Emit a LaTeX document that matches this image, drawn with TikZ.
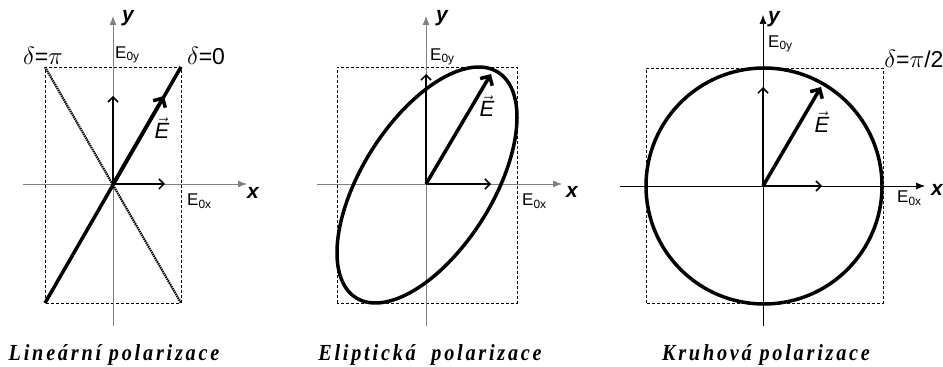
\documentclass[tikz,border=0pt]{standalone}
\usepackage{fontspec}
\setmainfont{Liberation Sans}
\newfontfamily\capfont[LetterSpace=12, FakeStretch=0.88]{Liberation Serif}
\usetikzlibrary{arrows.meta, positioning}
\newcommand{\Evec}{$\vec{\mbox{\itshape E}}$}

\begin{document}
\begin{tikzpicture}[
        x=1pt, y=1pt,
        axis/.style={-{Latex[length=9pt,width=7pt]}, line width=0.9pt, draw=gray},
        frame/.style={dash pattern=on 3pt off 2pt, line width=0.8pt},
        comp/.style={-{Straight Barb[length=5pt,width=10pt]}, line width=1.5pt},
        evec/.style={-{Straight Barb[length=7pt,width=14pt]}, line width=3.5pt},
        curve/.style={line width=3.5pt},
        lab/.style={font=\fontsize{17}{17}\selectfont, inner sep=0pt},
        evlab/.style={font=\fontsize{22}{22}\selectfont, inner sep=0pt},
        axlab/.style={font=\fontsize{21}{21}\selectfont\bfseries\itshape, inner sep=0pt},
        dlab/.style={font=\fontsize{23}{23}\selectfont, inner sep=0pt},
        captext/.style={font=\capfont\fontsize{23}{23}\selectfont\bfseries\itshape, inner sep=0pt, anchor=base}
    ]
    \useasboundingbox (0,0) rectangle (943,367);

    % Linear
    \begin{scope}[shift={(113,183)}]
        \coordinate (a-O) at (0,0);
        \coordinate (a-xl) at (-90,0);
        \coordinate (a-xr) at (134,0);
        \coordinate (a-yb) at (0,-142);
        \coordinate (a-yt) at (0,168);
        \coordinate (a-sw) at (-68,-119);
        \coordinate (a-ne) at (68,117);
        \coordinate (a-nw) at (-68,117);
        \coordinate (a-se) at (68,-119);
        \coordinate (a-E) at (51,88);
        \coordinate (a-Ex) at (52,0);
        \coordinate (a-Ey) at (0,88);

        \node[axlab] (a-y) at (15,166) {y};
        \node[axlab] (a-x) at (140,-9) {x};
        \node[lab, anchor=west] (a-E0y) at (2,129) {E\textsubscript{0y}};
        \node[lab, anchor=west] (a-E0x) at (74,-17) {E\textsubscript{0x}};
        \node[dlab] (a-pi) at (-70,128) {$\delta$=$\pi$};
        \node[dlab] (a-zero) at (93,128) {$\delta$=0};
        \node[evlab] (a-Elab) at (49,56) {\Evec};

        \draw[frame] (a-sw) rectangle (a-ne);
        \draw[axis] (a-xl) -- (a-xr);
        \draw[axis] (a-yb) -- (a-yt);
        \draw[line width=2.2pt, dash pattern=on 1.4pt off 0.8pt] (a-nw) -- (a-se);
        \draw[comp] (a-O) -- (a-Ex);
        \draw[comp] (a-O) -- (a-Ey);
        \draw[curve] (a-sw) -- (a-ne);
        \draw[evec] (a-O) -- (a-E);
    \end{scope}

    % Elliptical
    \begin{scope}[shift={(426,183)}]
        \coordinate (b-O) at (0,0);
        \coordinate (b-xl) at (-109,0);
        \coordinate (b-xr) at (136,0);
        \coordinate (b-yb) at (0,-142);
        \coordinate (b-yt) at (0,168);
        \coordinate (b-sw) at (-89,-119);
        \coordinate (b-ne) at (91,117);
        \coordinate (b-E) at (65,110);
        \coordinate (b-Ex) at (65,0);
        \coordinate (b-Ey) at (0,110);

        \node[axlab] (b-y) at (16,166) {y};
        \node[axlab] (b-x) at (146,-8) {x};
        \node[lab, anchor=west] (b-E0y) at (4,127) {E\textsubscript{0y}};
        \node[lab, anchor=west] (b-E0x) at (96,-17) {E\textsubscript{0x}};
        \node[evlab] (b-Elab) at (61,78) {\Evec};

        \draw[frame] (b-sw) rectangle (b-ne);
        \draw[axis] (b-xl) -- (b-xr);
        \draw[axis] (b-yb) -- (b-yt);
        \draw[curve] plot[domain=0:360, samples=120, smooth cycle]
            ({1+90*cos(\x)}, {-1+118*cos(\x-55)});
        \draw[comp] (b-O) -- (b-Ex);
        \draw[comp] (b-O) -- (b-Ey);
        \draw[evec] (b-O) -- (b-E);
    \end{scope}

    % Circular
    \begin{scope}[shift={(763,181)}]
        \coordinate (c-O) at (0,0);
        \coordinate (c-xl) at (-143,0);
        \coordinate (c-xr) at (162,0);
        \coordinate (c-yb) at (0,-140);
        \coordinate (c-yt) at (0,171);
        \coordinate (c-sw) at (-117,-117);
        \coordinate (c-ne) at (120,118);
        \coordinate (c-E) at (58,99);
        \coordinate (c-Ex) at (59,0);
        \coordinate (c-Ey) at (0,99);

        \node[axlab] (c-y) at (11,167) {y};
        \node[axlab] (c-x) at (174,-4) {x};
        \node[lab, anchor=west] (c-E0y) at (5,142) {E\textsubscript{0y}};
        \node[lab, anchor=west] (c-E0x) at (134,-12) {E\textsubscript{0x}};
        \node[dlab] (c-half) at (151,127) {$\delta$=$\pi$/2};
        \node[evlab] (c-Elab) at (59,64) {\Evec};

        \draw[frame] (c-sw) rectangle (c-ne);
        \draw[axis, draw=black, line width=0.7pt] (c-xl) -- (c-xr);
        \draw[axis, draw=black, line width=0.7pt] (c-yb) -- (c-yt);
        \draw[curve] (1,0) circle[radius=118];
        \draw[comp] (c-O) -- (c-Ex);
        \draw[comp] (c-O) -- (c-Ey);
        \draw[evec] (c-O) -- (c-E);
    \end{scope}

    % Captions
    \node[captext] (cap-lin) at (114,6) {Lineární polarizace};
    \node[captext] (cap-ell) at (430,6) {Eliptická~ polarizace};
    \node[captext] (cap-cir) at (766,6) {Kruhová polarizace};
\end{tikzpicture}
\end{document}
